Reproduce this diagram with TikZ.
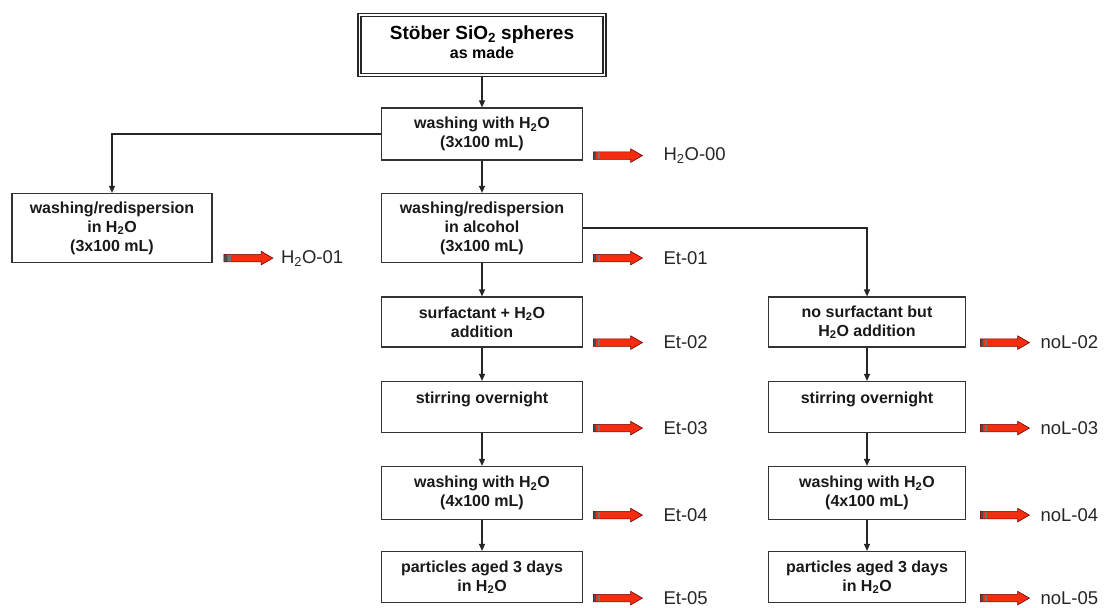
\documentclass[tikz,border=0pt]{standalone}
\usepackage{fontspec}
\setmainfont{Liberation Sans}
\usepackage{xcolor}
\usetikzlibrary{positioning,arrows.meta,shapes.arrows}

\definecolor{arrowred}{RGB}{245,45,15}

\begin{document}
\begin{tikzpicture}[
  x=1pt, y=1pt,
  >={Triangle[length=7pt,width=6pt]},
  on grid,
  flow/.style={->, draw=black!85, line width=1.2pt},
  stepbox/.style={
    draw=black!80,
    line width=1.2pt,
    rectangle,
    minimum width=201pt,
    inner sep=0pt,
    align=center,
    text=black!90,
    font=\fontsize{16}{19}\selectfont\bfseries
  },
  titlebox/.style={
    draw=black!85,
    line width=1.2pt,
    double,
    double distance=1.8pt,
    minimum width=245pt,
    minimum height=60pt,
    align=center,
    font=\bfseries
  },
  redarrow/.style={
    single arrow,
    draw=red!45!black,
    fill=arrowred,
    line width=0.6pt,
    inner xsep=0pt,
    inner ysep=3.5pt,
    minimum height=49pt,
    single arrow head extend=3pt,
    single arrow tip angle=60,
    path picture={
      \fill[black!70] (path picture bounding box.south west)
        rectangle ([xshift=3pt]path picture bounding box.north west);
      \fill[black!55] ([xshift=4.5pt]path picture bounding box.south west)
        rectangle ([xshift=7pt]path picture bounding box.north west);
    }
  },
  sample/.style={anchor=west, text=black!85, font=\fontsize{18.5}{20}\selectfont}
]
\useasboundingbox (0,0) rectangle (1107,-607);

% start
\node[titlebox] (stober) at (482,-45)
  {\fontsize{19}{21}\selectfont St\"ober SiO\textsubscript{2} spheres\\[3pt]
   \fontsize{16}{19}\selectfont as made\rule[-6pt]{0pt}{0pt}};

% ethanol route
\node[stepbox, minimum height=52pt] (wash) [below=89pt of stober]
  {washing with H\textsubscript{2}O\\(3x100 mL)};
\node[stepbox, minimum height=69pt] (alcohol) [below=94pt of wash]
  {washing/redispersion\\in alcohol\\(3x100 mL)};
\node[stepbox, minimum height=69pt, minimum width=200pt] (waterdisp) [left=370pt of alcohol]
  {washing/redispersion\\in H\textsubscript{2}O\\(3x100 mL)};
\node[stepbox, minimum height=50pt] (surf) [below=94pt of alcohol]
  {surfactant + H\textsubscript{2}O\\addition};
\node[stepbox, minimum height=51pt] (stir) [below=85pt of surf]
  {stirring overnight\\\mbox{}};
\node[stepbox, minimum height=53pt] (washfour) [below=86pt of stir]
  {washing with H\textsubscript{2}O\\(4x100 mL)};
\node[stepbox, minimum height=51pt] (aged) [below=84pt of washfour]
  {particles aged 3 days\\in H\textsubscript{2}O};

% no surfactant route
\node[stepbox, minimum height=50pt, minimum width=197pt] (nosurf) [right=385pt of surf]
  {no surfactant but\\H\textsubscript{2}O addition};
\node[stepbox, minimum height=51pt, minimum width=197pt] (stirB) [below=85pt of nosurf]
  {stirring overnight\\\mbox{}};
\node[stepbox, minimum height=53pt, minimum width=197pt] (washB) [below=86pt of stirB]
  {washing with H\textsubscript{2}O\\(4x100 mL)};
\node[stepbox, minimum height=51pt, minimum width=197pt] (agedB) [below=84pt of washB]
  {particles aged 3 days\\in H\textsubscript{2}O};

% connectors
\foreach \a/\b in {stober/wash, wash/alcohol, alcohol/surf, surf/stir,
                   stir/washfour, washfour/aged, nosurf/stirB, stirB/washB, washB/agedB}
  \draw[flow] (\a) -- (\b);
\draw[flow] (wash.west) -| (waterdisp.north);
\draw[flow] (alcohol.east) -| (nosurf.north);

% samples taken
\foreach \step/\dx/\gap/\tag in {
    wash/10/17/{H\textsubscript{2}O-00},
    waterdisp/11/4/{H\textsubscript{2}O-01},
    alcohol/10/17/Et-01, surf/10/17/Et-02, stir/10/17/Et-03,
    washfour/10/17/Et-04, aged/10/17/Et-05,
    nosurf/14/7/noL-02, stirB/14/7/noL-03, washB/14/7/noL-04, agedB/14/7/noL-05}{
  \node[redarrow, anchor=tail] (r-\step) at ([xshift=\dx pt, yshift=5pt]\step.south east) {};
  \node[sample] (s-\step) at ([xshift=\gap pt]r-\step.tip) {\tag};
}
\end{tikzpicture}
\end{document}
